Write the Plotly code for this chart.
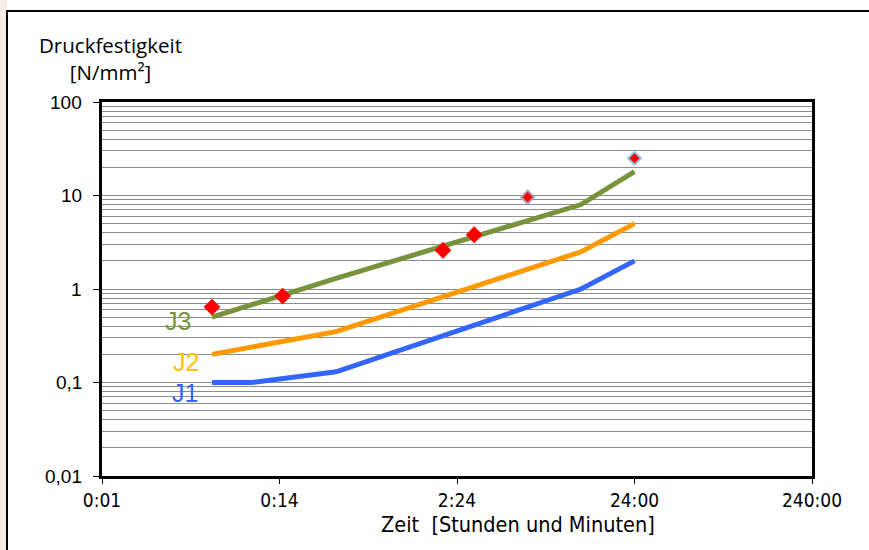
import math
import plotly.graph_objects as go

# ---- data ----
time_minutes = [6, 10, 30, 720, 1440]          # J1 sample times (minutes)
j1_values = [0.1, 0.1, 0.13, 1.0, 2.0]
j2_minutes = [6, 30, 720, 1440]
j2_values = [0.2, 0.35, 2.5, 5.0]
j3_minutes = [6, 30, 720, 1440]
j3_values = [0.5, 1.3, 8.0, 18.0]
meas_minutes = [6, 15, 120, 180]
meas_values = [0.64, 0.84, 2.6, 3.8]
late_minutes = [360, 1440]
late_values = [9.6, 25.0]

x_tickvals_days = [0.001, 0.01, 0.1, 1, 10]
x_ticktext = ["0:01", "0:14", "2:24", "24:00", "240:00"]
y_tickvals = [0.01, 0.1, 1, 10, 100]
y_ticktext = ["0,01", "0,1", "1", "10", "100"]


def to_days(mins):
    return [m / 1440.0 for m in mins]


W, H = 869, 550
L, R, T, B = 102, 812, 102, 476

fig = go.Figure()

fig.add_trace(go.Scatter(x=to_days(time_minutes), y=j1_values, mode="lines",
                         line=dict(color="#3366FF", width=5), showlegend=False))
fig.add_trace(go.Scatter(x=to_days(j2_minutes), y=j2_values, mode="lines",
                         line=dict(color="#FF9900", width=5), showlegend=False))
fig.add_trace(go.Scatter(x=to_days(j3_minutes), y=j3_values, mode="lines",
                         line=dict(color="#77933C", width=5), showlegend=False))
fig.add_trace(go.Scatter(x=to_days(meas_minutes), y=meas_values, mode="markers",
                         marker=dict(symbol="diamond", size=13, color="#FF0000",
                                     line=dict(width=0)), showlegend=False))
fig.add_trace(go.Scatter(x=to_days(late_minutes), y=late_values, mode="markers",
                         marker=dict(symbol="diamond", size=10, color="#FF0000",
                                     line=dict(width=2, color=["#A8A0BC", "#93C6DC"])),
                         showlegend=False))

# line labels anchored at first point of each series
lab_font = "Liberation Sans, Arial, sans-serif"
for name, xs, ys, col, dx, dy in [
    ("J3", j3_minutes, j3_values, "#77933C", -19, -4),
    ("J2", j2_minutes, j2_values, "#FFC000", -11, -8),
    ("J1", time_minutes, j1_values, "#3366FF", -12, -10),
]:
    fig.add_annotation(x=math.log10(xs[0] / 1440.0), y=math.log10(ys[0]),
                       xref="x", yref="y", text=name, showarrow=False,
                       xanchor="right", yanchor="middle", xshift=dx, yshift=dy,
                       font=dict(family=lab_font, size=25, color=col))

# page-pixel -> paper coordinates
px = lambda v: (v - L) / (R - L)
py = lambda v: (B - v) / (B - T)

# y tick labels (placed further from the axis, as in the original)
for v, t in zip(y_tickvals, y_ticktext):
    fig.add_annotation(xref="paper", yref="y", x=px(84), y=math.log10(v), text=t,
                       showarrow=False, xanchor="right", yanchor="middle",
                       font=dict(family="Liberation Sans, Arial, sans-serif", size=19, color="#000"))

# outer chart frame and surroundings
fig.add_shape(type="rect", xref="paper", yref="paper", x0=px(-5), x1=px(7),
              y0=py(560), y1=py(-5), fillcolor="#F5EEE6", line=dict(width=0), layer="below")
fig.add_shape(type="rect", xref="paper", yref="paper", x0=px(7), x1=px(880),
              y0=py(560), y1=py(11), fillcolor="rgba(0,0,0,0)",
              line=dict(color="#000000", width=2), layer="below")

# titles
fig.add_annotation(xref="paper", yref="paper", x=px(110), y=py(59), text="Druckfestigkeit<br>[N/mm²]",
                   showarrow=False, xanchor="center", yanchor="middle", align="center",
                   font=dict(family="Open Sans, sans-serif", size=20.5, color="#000"))
fig.add_annotation(xref="paper", yref="paper", x=px(518), y=py(524),
                   text="Zeit  [Stunden und Minuten]", showarrow=False,
                   xanchor="center", yanchor="middle",
                   font=dict(family="Liberation Sans Narrow, DejaVu Sans Condensed, sans-serif",
                             size=21.5, color="#000"))

minor_vals = []
for d in [0.01, 0.1, 1, 10]:
    for k in range(2, 10):
        minor_vals.append(d * k)

fig.update_layout(
    width=W, height=H,
    margin=dict(l=L, r=W - R, t=T, b=H - B),
    paper_bgcolor="#FFFFFF", plot_bgcolor="#FFFFFF",
    showlegend=False,
    xaxis=dict(type="log", range=[-3, 1], tickvals=x_tickvals_days, ticktext=x_ticktext,
               showgrid=False, zeroline=False, showline=True, mirror=True,
               linecolor="#000", linewidth=2.5, ticks="outside", ticklen=5, tickwidth=1,
               tickcolor="#000",
               tickfont=dict(family="Liberation Sans Narrow, DejaVu Sans Condensed, sans-serif",
                             size=19, color="#000")),
    yaxis=dict(type="log", range=[-2, 2], tickvals=y_tickvals, showticklabels=False,
               showgrid=True, gridcolor="#8C8C8C", gridwidth=1,
               zeroline=False, showline=True, mirror=True,
               linecolor="#000", linewidth=2.5, ticks="outside", ticklen=6, tickwidth=1,
               tickcolor="#000",
               minor=dict(tickvals=minor_vals, showgrid=True, gridcolor="#8C8C8C",
                          gridwidth=1, ticks="")),
)

fig.write_html("out.html", config={"displayModeBar": False},
               post_script="document.body.style.margin='0';document.body.style.overflow='hidden';")
